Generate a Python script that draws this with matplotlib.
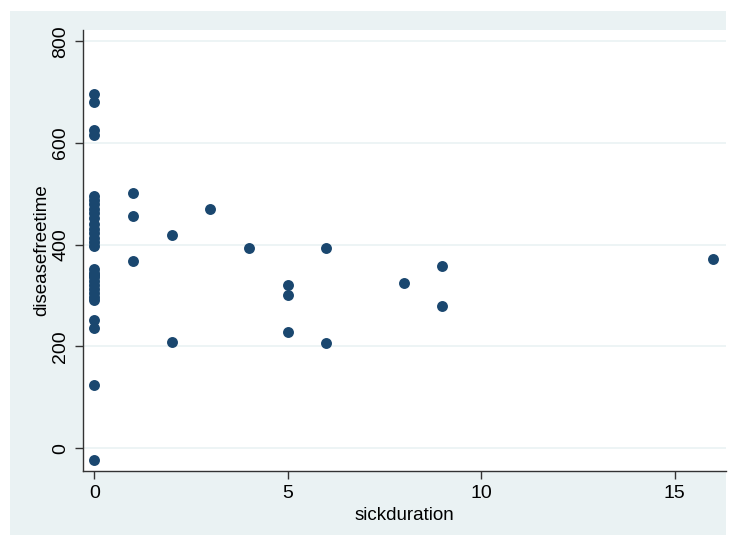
import matplotlib
matplotlib.use('Agg')
import matplotlib.pyplot as plt
from matplotlib.patches import Rectangle

# sickduration / diseasefreetime
sickduration = [0, 0, 0, 0,
                0, 0, 0, 0, 0, 0, 0, 0, 0, 0, 0, 0,
                0, 0, 0, 0, 0, 0, 0, 0, 0, 0,
                0, 0, 0, 0,
                1, 1, 1, 2, 2, 3, 4, 5, 5, 5, 6, 6, 8, 9, 9, 16]
diseasefreetime = [696, 680, 626, 615,
                   495, 488, 480, 470, 462, 452, 440, 430, 422, 414, 406, 398,
                   352, 344, 336, 328, 320, 312, 305, 298, 292, 340,
                   252, 236, 124, -24,
                   501, 456, 368, 419, 208, 470, 393, 320, 301, 228, 393, 206, 324, 358, 279, 371]

xticks = [0, 5, 10, 15]
yticks = [0, 200, 400, 600, 800]

bg = '#eaf2f3'
navy = '#1a476f'

plt.rcParams['font.family'] = ['Liberation Sans', 'DejaVu Sans']

fig = plt.figure(figsize=(7.32, 5.35), dpi=100)
fig.patch.set_facecolor('white')
# Stata-style background panel
fig.patches.append(Rectangle((10 / 732, 0), 716 / 732, 524 / 535,
                             transform=fig.transFigure, facecolor=bg,
                             edgecolor='none', zorder=-10))

ax = fig.add_axes([83 / 732, 64 / 535, 643 / 732, 441 / 535])
ax.set_facecolor('white')
ax.scatter(sickduration, diseasefreetime, s=62, color=navy, zorder=3,
           linewidths=0)

ax.set_xlim(-0.29, 16.33)
ax.set_ylim(-45, 822)
ax.set_xticks(xticks)
ax.set_yticks(yticks)
ax.set_yticklabels([str(v) for v in yticks], rotation=90, va='center')
ax.tick_params(labelsize=14, length=6, width=1, color='#333333', pad=4)
ax.yaxis.grid(True, color=bg, linewidth=1.2)
ax.set_axisbelow(True)

for side in ['top', 'right']:
    ax.spines[side].set_visible(False)
for side in ['left', 'bottom']:
    ax.spines[side].set_color('#333333')
    ax.spines[side].set_linewidth(1)

ax.set_xlabel('sickduration', fontsize=13.5, labelpad=4)
ax.set_ylabel('diseasefreetime', fontsize=13.5, labelpad=1)

fig.savefig('out.png', dpi=100, facecolor=fig.get_facecolor())
